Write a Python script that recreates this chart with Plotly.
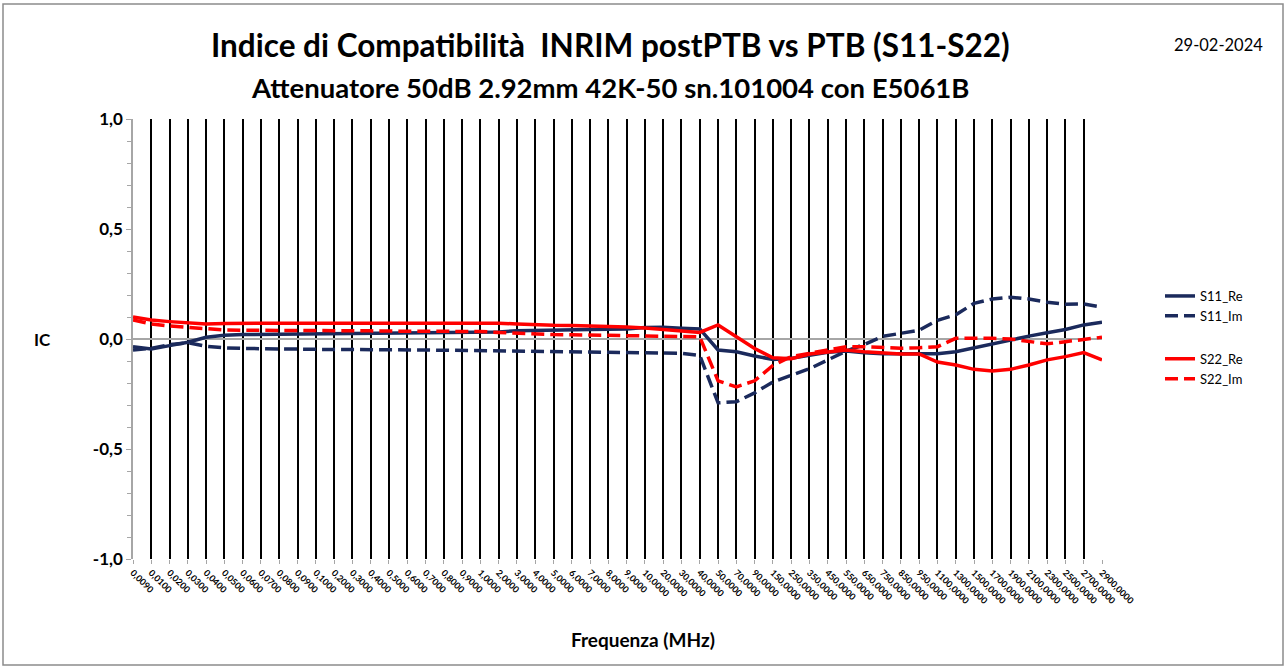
import plotly.graph_objects as go

freq_labels = [
    "0,0090", "0,0100", "0,0200", "0,0300", "0,0400", "0,0500", "0,0600", "0,0700", "0,0800", "0,0900",
    "0,1000", "0,2000", "0,3000", "0,4000", "0,5000", "0,6000", "0,7000", "0,8000", "0,9000",
    "1,0000", "2,0000", "3,0000", "4,0000", "5,0000", "6,0000", "7,0000", "8,0000", "9,0000",
    "10,0000", "20,0000", "30,0000", "40,0000", "50,0000", "70,0000", "90,0000", "150,0000",
    "250,0000", "350,0000", "450,0000", "550,0000", "650,0000", "750,0000", "850,0000", "950,0000",
    "1100,0000", "1300,0000", "1500,0000", "1700,0000", "1900,0000", "2100,0000", "2300,0000",
    "2500,0000", "2700,0000", "2900,0000",
]

y_tick_vals = [-1.0, -0.5, 0.0, 0.5, 1.0]
y_tick_text = ["-1,0", "-0,5", "0,0", "0,5", "1,0"]

s11_re = [
    -0.035, -0.045, -0.030, -0.015, 0.008, 0.017, 0.020, 0.021, 0.022, 0.022,
    0.023, 0.023, 0.024, 0.024, 0.025, 0.026, 0.027, 0.028, 0.029,
    0.030, 0.032, 0.038, 0.040, 0.041, 0.042, 0.043, 0.044, 0.046,
    0.052, 0.053, 0.049, 0.046, -0.050, -0.058, -0.077, -0.093,
    -0.088, -0.073, -0.060, -0.055, -0.063, -0.067, -0.068, -0.068,
    -0.067, -0.058, -0.040, -0.020, -0.002, 0.013, 0.028,
    0.043, 0.064, 0.076,
]

s11_im = [
    -0.050, -0.042, -0.026, -0.017, -0.033, -0.040, -0.043, -0.045, -0.046, -0.046,
    -0.047, -0.047, -0.048, -0.048, -0.049, -0.050, -0.050, -0.051, -0.052,
    -0.053, -0.055, -0.058, -0.059, -0.060, -0.061, -0.062, -0.062, -0.063,
    -0.063, -0.064, -0.065, -0.075, -0.290, -0.285, -0.245, -0.195,
    -0.165, -0.135, -0.095, -0.055, -0.025, 0.012, 0.026, 0.040,
    0.085, 0.110, 0.162, 0.182, 0.190, 0.182, 0.167,
    0.158, 0.159, 0.145,
]

s22_re = [
    0.100, 0.086, 0.079, 0.074, 0.068, 0.071, 0.072, 0.072, 0.073, 0.072,
    0.072, 0.072, 0.073, 0.073, 0.072, 0.072, 0.072, 0.073, 0.074,
    0.073, 0.072, 0.068, 0.064, 0.062, 0.061, 0.060, 0.058, 0.055,
    0.050, 0.043, 0.036, 0.030, 0.064, 0.010, -0.043, -0.085,
    -0.090, -0.068, -0.058, -0.050, -0.058, -0.064, -0.068, -0.068,
    -0.105, -0.118, -0.138, -0.145, -0.138, -0.118, -0.095,
    -0.080, -0.062, -0.095,
]

s22_im = [
    0.086, 0.068, 0.059, 0.053, 0.044, 0.041, 0.040, 0.040, 0.039, 0.039,
    0.038, 0.038, 0.037, 0.037, 0.036, 0.036, 0.036, 0.035, 0.035,
    0.034, 0.030, 0.026, 0.022, 0.020, 0.019, 0.018, 0.017, 0.016,
    0.015, 0.014, 0.013, 0.010, -0.190, -0.218, -0.190, -0.120,
    -0.080, -0.065, -0.050, -0.035, -0.035, -0.037, -0.042, -0.040,
    -0.035, 0.003, 0.004, 0.003, 0.000, -0.012, -0.022,
    -0.012, 0.000, 0.008,
]

NAVY = "#1B2A5C"
RED = "#FF0000"
FONT = "Lato, Open Sans, Liberation Sans, sans-serif"

series = [
    ("S11_Re", s11_re, NAVY, "solid", "g1"),
    ("S11_Im", s11_im, NAVY, "13px,6px", "g1"),
    ("S22_Re", s22_re, RED, "solid", "g2"),
    ("S22_Im", s22_im, RED, "13px,6px", "g2"),
]

fig = go.Figure()
for name, vals, col, dash, grp in series:
    fig.add_trace(go.Scatter(
        x=freq_labels, y=vals, name=name, mode="lines",
        line=dict(color=col, width=3.5, dash=dash),
        legendgroup=grp,
    ))

W, H = 1286, 668
L, T = 133, 119
R = W - 1102
B = H - 559
pw = W - L - R
ph = H - T - B


def px(x):
    return (x - L) / pw


def py(y):
    return (H - B - y) / ph


def ann(text, x, y, size, weight="bold"):
    return dict(text=text, x=px(x), y=py(y), xref="paper", yref="paper",
                xanchor="center", yanchor="middle", showarrow=False,
                font=dict(size=size, family=FONT, weight=weight, color="black"))


fig.update_layout(
    width=W, height=H,
    margin=dict(l=L, r=R, t=T, b=B, autoexpand=False),
    paper_bgcolor="white", plot_bgcolor="white",
    font=dict(family=FONT, color="black"),
    separators=",.",
    showlegend=True,
    legend=dict(
        x=px(1160), xanchor="left", y=py(281), yanchor="top",
        font=dict(size=13, family=FONT, color="black"),
        tracegroupgap=23, traceorder="grouped",
        bgcolor="rgba(0,0,0,0)",
    ),
    xaxis=dict(
        type="category", range=[0, len(freq_labels) - 1],
        showgrid=True, gridcolor="black", gridwidth=2,
        tickangle=45, tickfont=dict(size=9, family=FONT, weight="bold"),
        ticks="outside", ticklen=4, tickcolor="#A6A6A6",
        showline=False, zeroline=False, automargin=False,
    ),
    yaxis=dict(
        range=[-1, 1], tickmode="array", tickvals=y_tick_vals, ticktext=y_tick_text,
        tickfont=dict(size=17, family=FONT, weight="bold"),
        showgrid=False, zeroline=True, zerolinecolor="#A6A6A6", zerolinewidth=1.5,
        showline=True, linecolor="#A6A6A6", linewidth=1.5,
        ticks="outside", ticklen=5, tickcolor="#A6A6A6",
        minor=dict(dtick=0.1, ticks="outside", ticklen=4, tickcolor="#A6A6A6"),
        automargin=False,
    ),
    annotations=[
        ann("Indice di Compatibilità  INRIM postPTB vs PTB (S11-S22)", 610, 45, 31.5),
        ann("Attenuatore 50dB 2.92mm 42K-50 sn.101004 con E5061B", 610, 88, 27.5),
        ann("29-02-2024", 1218, 45, 16.5, weight="normal"),
        ann("IC", 42, 339, 17),
        ann("Frequenza (MHz)", 643, 639, 19),
    ],
    shapes=[
        dict(type="rect", xref="paper", yref="paper",
             x0=px(3), x1=px(1283), y0=py(665), y1=py(4),
             line=dict(color="#8C8C8C", width=1.5), fillcolor="rgba(0,0,0,0)"),
    ],
)

fig.write_html("out.html", config={"displayModeBar": False},
               post_script="document.body.style.margin='0';document.body.style.overflow='hidden';")
